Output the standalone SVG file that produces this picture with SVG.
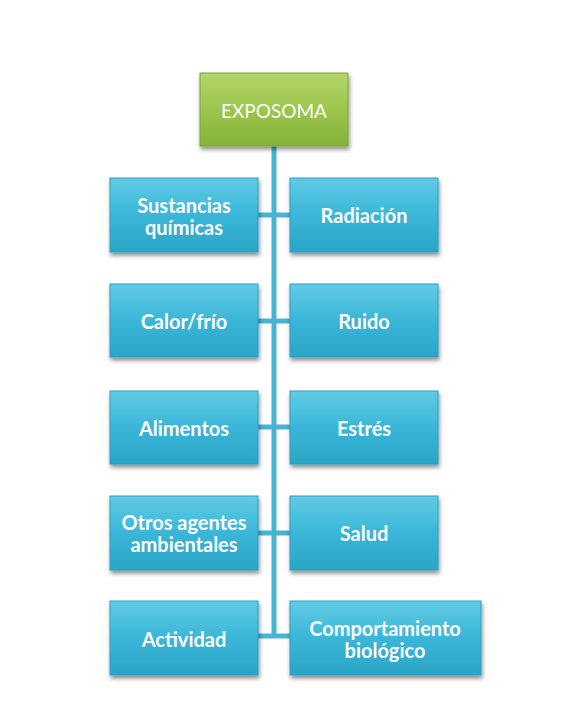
<svg xmlns="http://www.w3.org/2000/svg" width="571" height="713" viewBox="0 0 571 713">
<defs>
<linearGradient id="gb" x1="0" y1="0" x2="0" y2="1">
<stop offset="0" stop-color="#62cbe6"/>
<stop offset="0.5" stop-color="#3ab6d8"/>
<stop offset="1" stop-color="#2aa5c6"/>
</linearGradient>
<linearGradient id="gg" x1="0" y1="0" x2="0" y2="1">
<stop offset="0" stop-color="#b3d66a"/>
<stop offset="0.5" stop-color="#9cc64c"/>
<stop offset="1" stop-color="#86b23a"/>
</linearGradient>
<filter id="sh" x="-10%" y="-10%" width="125%" height="135%">
<feDropShadow dx="1" dy="3" stdDeviation="2" flood-color="#000" flood-opacity="0.45"/>
</filter>
</defs>
<style>
.b{fill:url(#gb);stroke:#2c9fbf;stroke-width:1;filter:url(#sh)}
.g{fill:url(#gg);stroke:#7fa636;stroke-width:1;filter:url(#sh)}
.t{font-family:Lato,"Open Sans",sans-serif;font-size:20px;font-weight:bold;fill:#fff;text-anchor:middle;dominant-baseline:central}
.e{font-weight:normal;font-size:19px}
.c{stroke:#48b3d3;stroke-width:5;fill:none}
</style>
<rect width="571" height="713" fill="#fff"/>
<g id="connectors">
<line class="c" x1="274" y1="146" x2="274" y2="638"/>
<line class="c" x1="258" y1="215" x2="290" y2="215"/>
<line class="c" x1="258" y1="321" x2="290" y2="321"/>
<line class="c" x1="258" y1="427" x2="290" y2="427"/>
<line class="c" x1="258" y1="533" x2="290" y2="533"/>
<line class="c" x1="258" y1="636" x2="290" y2="636"/>
</g>
<g id="exposoma"><rect class="g" x="200" y="73" width="148" height="73"/><text class="t e" x="274" y="110">EXPOSOMA</text></g>
<g id="sustancias"><rect class="b" x="110" y="178" width="148" height="74"/><text class="t" x="184" y="205">Sustancias</text><text class="t" x="184" y="227">químicas</text></g>
<g id="radiacion"><rect class="b" x="290" y="178" width="148" height="74"/><text class="t" x="364" y="215">Radiación</text></g>
<g id="calor"><rect class="b" x="110" y="284" width="148" height="73"/><text class="t" x="184" y="321">Calor/frío</text></g>
<g id="ruido"><rect class="b" x="290" y="284" width="148" height="73"/><text class="t" x="364" y="321">Ruido</text></g>
<g id="alimentos"><rect class="b" x="110" y="391" width="148" height="73"/><text class="t" x="184" y="428">Alimentos</text></g>
<g id="estres"><rect class="b" x="290" y="391" width="148" height="73"/><text class="t" x="364" y="428">Estrés</text></g>
<g id="otros"><rect class="b" x="110" y="496" width="148" height="74"/><text class="t" x="184" y="522">Otros agentes</text><text class="t" x="184" y="544">ambientales</text></g>
<g id="salud"><rect class="b" x="290" y="496" width="148" height="74"/><text class="t" x="364" y="533">Salud</text></g>
<g id="actividad"><rect class="b" x="110" y="601" width="148" height="74"/><text class="t" x="184" y="639">Actividad</text></g>
<g id="comportamiento"><rect class="b" x="290" y="601" width="191" height="74"/><text class="t" x="385" y="628">Comportamiento</text><text class="t" x="385" y="650">biológico</text></g>
</svg>
